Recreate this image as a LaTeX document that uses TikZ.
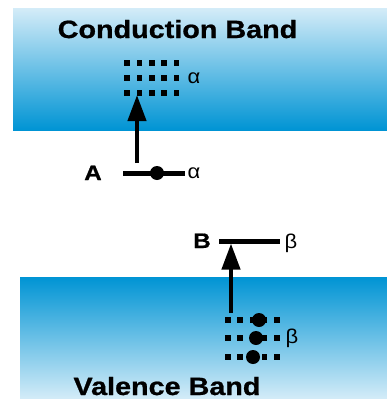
\documentclass[tikz,border=0pt]{standalone}
\usepackage{fontspec}
\setmainfont{Liberation Sans}
\usetikzlibrary{arrows.meta}
\definecolor{bandblue}{RGB}{0,148,212}
\definecolor{bandpale}{RGB}{212,236,248}
\begin{document}
\begin{tikzpicture}[x=1pt,y=-1pt,
  bandtitle/.style={font=\bfseries\fontsize{25}{25}\selectfont\addfontfeature{FakeBold=0.8}, anchor=base, inner sep=0pt, xscale=1.15},
  levelname/.style={font=\bfseries\fontsize{21}{21}\selectfont\addfontfeature{FakeBold=0.8}, anchor=base, inner sep=0pt, xscale=1.15},
  greek/.style={font=\fontsize{20}{20}\selectfont, inner sep=0pt, xscale=1.1},
  level/.style={line width=5pt},
  sq/.style={fill=black, minimum size=5.5pt, inner sep=0pt, draw=none},
  electron/.style={circle, fill=black, minimum size=14pt, inner sep=0pt},
  jump/.style={line width=4.2pt, -{Triangle[width=18pt,length=26pt]}}]
\useasboundingbox (0,0) rectangle (387,399);

% energy bands
\shade[top color=bandpale, bottom color=bandblue] (13,8) rectangle (387,130);
\shade[top color=bandblue, bottom color=bandpale] (20,277) rectangle (387,399);

\node[bandtitle] (cb) at (177.5,38) {Conduction Band};
\node[bandtitle] (vb) at (167,395) {Valence Band};

% empty states in the conduction band
\foreach \r/\y in {1/63,2/78,3/93}
  \foreach \c in {0,...,4}
    \node[sq] (c\r\c) at ({127+12.4*\c},\y) {};
\node[greek] (alphaC) at (194,78) {α};

% donor level A
\coordinate (a1) at (123,173);
\coordinate (a2) at (185,173);
\draw[level] (a1) -- (a2);
\node[electron] (ea) at (157,173) {};
\node[levelname] (A) at (93,180) {A};
\node[greek] (alphaA) at (194,173) {α};
\coordinate (aStart) at (137,163);
\coordinate (aEnd) at (137,95);
\draw[jump] (aStart) -- (aEnd);

% acceptor level B
\coordinate (b1) at (219,241);
\coordinate (b2) at (280,241);
\draw[level] (b1) -- (b2);
\node[levelname] (B) at (202,248) {B};
\node[greek] (betaB) at (291,243) {β};

% filled states in the valence band
\foreach \r/\y in {1/320,2/338,3/357}
  \foreach \c in {0,...,4}
    \node[sq] (v\r\c) at ({228+12.2*\c},\y) {};
\node[electron] (e1) at (259,320) {};
\node[electron] (e2) at (256,338) {};
\node[electron] (e3) at (253,357) {};
\node[greek] (betaV) at (292,338) {β};
\coordinate (bStart) at (231,313);
\coordinate (bEnd) at (231,243.5);
\draw[jump] (bStart) -- (bEnd);
\end{tikzpicture}
\end{document}
